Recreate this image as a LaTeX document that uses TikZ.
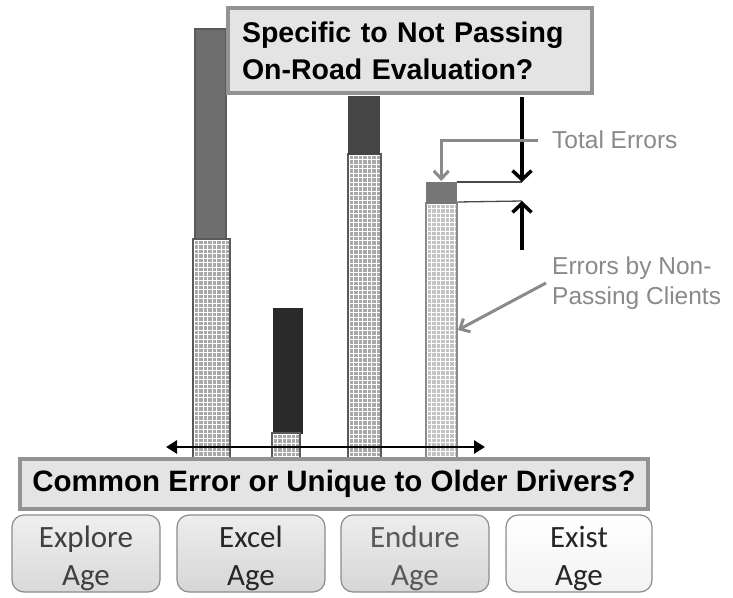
\documentclass[tikz,border=0pt]{standalone}
\usepackage{fontspec}
\setmainfont{Liberation Sans}
\newfontfamily\agefont{Carlito}
\usetikzlibrary{arrows.meta}

\definecolor{segA}{HTML}{6E6E6E}
\definecolor{segB}{HTML}{2A2A2A}
\definecolor{segC}{HTML}{454545}
\definecolor{segD}{HTML}{777777}
\definecolor{hatchdark}{HTML}{A8A8A8}
\definecolor{hatchlight}{HTML}{C2C2C2}
\definecolor{edgedark}{HTML}{5A5A5A}
\definecolor{edgelight}{HTML}{8C8C8C}
\definecolor{bannerfill}{HTML}{E4E4E4}
\definecolor{bannerrule}{HTML}{939393}
\definecolor{calloutgray}{HTML}{8A8A8A}
\definecolor{levelgray}{HTML}{4A4A4A}

\tikzset{
  seg/.style={draw=edgedark, line width=1.5pt, anchor=north west, inner sep=0pt},
  gridhatch/.style={path picture={
      \foreach \k in {0,...,80}{
        \draw[white, line width=0.9pt]
          ([xshift=\k*4.5pt+1.5pt]path picture bounding box.north west) -- ++(0pt,-400pt);
        \draw[white, line width=0.9pt]
          ([yshift=-\k*4.5pt-1.5pt]path picture bounding box.north west) -- ++(60pt,0pt);
      }}},
  banner/.style={fill=bannerfill, draw=bannerrule, line width=4pt, inner sep=0pt},
  callout/.style={draw=calloutgray, line width=3pt, -{Straight Barb[length=8pt,width=15pt]}},
  callouttext/.style={text=calloutgray, font=\fontsize{24.5}{30}\selectfont, align=left, anchor=west},
  levelline/.style={draw=levelgray, line width=1.3pt},
  gap/.style={line width=3.5pt, -{Straight Barb[length=9pt,width=19pt]}},
  agebox/.style={rounded corners=12pt, draw=edgelight, line width=1.2pt,
    minimum width=148pt, minimum height=77pt, inner sep=0pt},
  agetext/.style={align=center, inner sep=0pt, font=\agefont\fontsize{31}{38}\selectfont},
}

\begin{document}
\begin{tikzpicture}[x=1pt,y=-1pt]
\useasboundingbox (0,0) rectangle (733,597);
\fill[white] (0,0) rectangle (733,597);

% bar 1
\node[seg, fill=hatchdark, gridhatch, minimum width=37pt, minimum height=222pt] (b1hat) at (192,238) {};
\node[seg, fill=segA, minimum width=31pt, minimum height=210pt] (b1top) at (194,28) {};
% bar 2
\node[seg, fill=segB, draw=segB, minimum width=28pt, minimum height=124pt] (b2top) at (273,308) {};
\node[seg, fill=hatchdark, gridhatch, minimum width=28pt, minimum height=28pt] (b2hat) at (271,432) {};
% bar 3
\node[seg, fill=hatchdark, gridhatch, minimum width=33pt, minimum height=307pt] (b3hat) at (347,153) {};
\node[seg, fill=segC, draw=segC, minimum width=30pt, minimum height=57pt] (b3top) at (348,96) {};
% bar 4
\node[seg, draw=edgelight, fill=hatchlight, gridhatch, minimum width=31pt, minimum height=258pt] (b4hat) at (425,202) {};
\node[seg, draw=segD, fill=segD, minimum width=29pt, minimum height=20pt] (b4top) at (426,182) {};

% top question
\node[banner, minimum width=364pt, minimum height=85pt, text width=336pt, align=left,
      font=\bfseries\fontsize{28.5}{37}\selectfont] (specific) at (410,50.5)
  {Specific to Not Passing\\On-Road Evaluation?};

% span arrow across the age groups
\coordinate (spanL) at (166,447);
\coordinate (spanR) at (485,447);
\draw[line width=2.8pt, {Triangle[length=11pt,width=13pt]}-{Triangle[length=11pt,width=13pt]}] (spanL) -- (spanR);

% bottom question
\node[banner, minimum width=628pt, minimum height=50pt,
      font=\bfseries\fontsize{29.5}{34}\selectfont] (common) at (334,484)
  {Common Error or Unique to Older Drivers?};

% gap between totals and non-passing errors
\coordinate (lvlTop) at (522,182);
\coordinate (lvlBot) at (522,201);
\coordinate (gapS) at (522,97);
\coordinate (gapE) at (522,250);
\draw[levelline] (b4top.north east) -- (lvlTop);
\draw[levelline] (b4hat.north east) -- (lvlBot);
\draw[gap] (gapS) -- (lvlTop);
\draw[gap] (gapE) -- (lvlBot);

% callouts
\node[callouttext, inner xsep=14pt] (total) at (538,140) {Total Errors};
\draw[callout, shorten >=1pt] (total.west) -| (b4top.north);

\node[callouttext, inner xsep=6pt] (nonpass) at (546,283) {Errors by Non-\\Passing Clients};
\coordinate (hitpt) at (458,330);
\draw[callout] (nonpass.west) -- (hitpt);

% age groups
\node[agebox, top color=gray!12, bottom color=gray!30] (explore) at (86,553.5) {};
\node[agebox, top color=gray!14, bottom color=gray!32] (excel) at (251,553.5) {};
\node[agebox, top color=gray!14, bottom color=gray!32] (endure) at (415,553.5) {};
\node[agebox, minimum width=146pt, top color=white, bottom color=gray!10] (exist) at (579,553.5) {};
\node[agetext, text=black!75] (exploreT) at (86,558) {Explore\\Age};
\node[agetext, text=black!85] (excelT) at (251,558) {Excel\\Age};
\node[agetext, text=black!65] (endureT) at (415,558) {Endure\\Age};
\node[agetext, text=black!85] (existT) at (579,558) {Exist\\Age};
\end{tikzpicture}
\end{document}
